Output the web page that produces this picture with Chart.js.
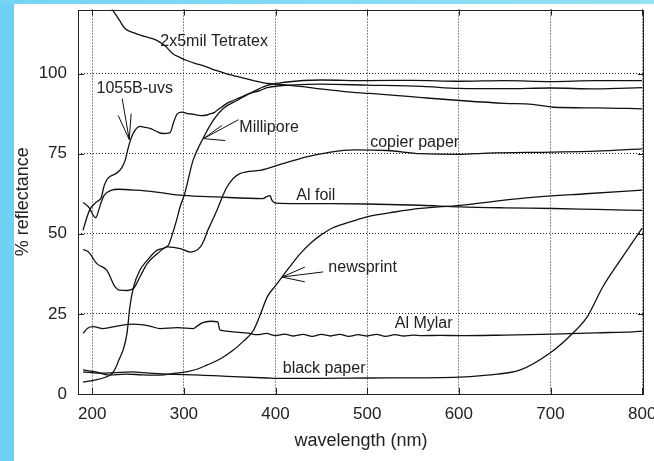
<!DOCTYPE html>
<html>
<head>
<meta charset="utf-8">
<script src="https://cdn.jsdelivr.net/npm/chart.js@4.4.1/dist/chart.umd.min.js"></script>
<style>
  html, body { margin: 0; padding: 0; background: #fff; }
  body { width: 654px; height: 461px; position: relative; overflow: hidden; }
  #left { position: absolute; left: 0; top: 0; width: 14px; height: 461px; background: #6fd2f5; }
  #top { position: absolute; left: 0; top: 0; width: 654px; height: 4px; background: linear-gradient(to right, #74d4f5, #93e1f3); }
  #c { position: absolute; left: 0; top: 0; }
</style>
</head>
<body>
<div id="left"></div>
<div id="top"></div>
<canvas id="c" width="654" height="461"></canvas>
<script>
// tick labels
const xTicks = [200, 300, 400, 500, 600, 700, 800];
const yTicks = [0, 25, 50, 75, 100];

// curves (wavelength nm, % reflectance)
const tetratexWl = [215, 223, 230, 236, 245, 258, 271, 280, 288, 296, 304, 312, 321, 330, 336, 345, 354, 365, 376, 391, 405, 416, 430, 449, 475, 503, 530, 560, 601, 650, 680, 703, 750, 800];
const tetratexR  = [123, 119.6, 116.5, 114, 112.8, 111.5, 110.3, 108.5, 106.2, 105, 104, 103.2, 102.5, 101.5, 100.9, 100.1, 99.4, 98.6, 97.8, 96.9, 96.6, 96.3, 95.9, 95.2, 94.4, 93.8, 93.2, 92.5, 91.6, 90.7, 90.4, 89.5, 89.3, 89.0];

const uvsWl = [190, 193, 197, 204, 210, 213, 217, 226, 232, 236, 239, 241.5, 245, 252, 258, 263, 270, 277, 285, 289, 293, 298, 304, 311, 318, 324, 329, 333, 336, 341, 347, 354, 361, 372, 383, 391, 405, 420, 449, 500, 560, 600, 650, 700, 750, 800];
const uvsR  = [51.1, 54, 57.3, 59.8, 61.4, 65, 67.3, 68.8, 70.5, 73, 76.5, 79, 81.5, 83.5, 83.2, 82.9, 82, 81.3, 81.6, 85, 87.5, 88, 87.5, 87.3, 86.9, 87, 87.5, 87.8, 88.5, 89.5, 90.7, 91.6, 92.5, 93.8, 94.7, 95.6, 96.2, 96.5, 96.7, 96.4, 96, 95.4, 95.3, 95.5, 95.2, 95.6];

const milliporeWl = [190, 204, 215, 220, 223, 226, 229, 234, 238, 241, 245, 252, 260, 271, 283, 287, 292, 296, 301, 310, 321, 332, 343, 358, 372, 391, 410, 450, 500, 550, 600, 650, 700, 750, 800];
const milliporeR  = [3.7, 4.4, 5.3, 6, 6.9, 8.4, 10.6, 14, 19, 27, 33.3, 38.6, 41.7, 44.9, 46.4, 49.5, 54.2, 58.5, 62.6, 72.9, 79.8, 85.4, 89.1, 91.6, 93.8, 96.3, 97.3, 98, 97.8, 97.9, 97.6, 97.8, 97.5, 97.8, 97.8];

const copierWl = [190, 196, 205, 216, 225, 230, 238, 245, 252, 260, 271, 282, 296, 307, 318, 322, 326, 330, 336, 347, 361, 383, 408, 434, 460, 485, 522, 558, 601, 631, 703, 750, 800];
const copierR  = [45.1, 44.3, 40.7, 38.6, 33.4, 32.4, 32.3, 32.9, 36.5, 40.7, 43.8, 45.9, 45.4, 44.3, 45.9, 48, 51, 53.5, 57.3, 64.6, 68.8, 69.8, 71.9, 74, 75.5, 76.2, 76, 75, 74.8, 75.2, 75.5, 75.8, 76.5];

const alFoilWl = [190, 197, 201, 204, 207, 210, 213, 221, 229, 248, 270, 299, 336, 386, 391, 394, 396, 400, 460, 500, 558, 601, 650, 703, 750, 800];
const alFoilR  = [59.8, 58, 55.8, 55, 57.3, 60, 62, 63.6, 63.9, 63.6, 63, 62, 61.5, 61, 61.7, 61.9, 60.5, 59.6, 59.4, 59.3, 58.9, 58.4, 58.1, 57.9, 57.6, 57.3];

const newsprintWl = [190, 204, 218, 237, 255, 273, 291, 304, 315, 325, 340, 354, 365, 376, 383, 391, 400, 407, 415, 427, 440, 449, 460, 485, 503, 530, 558, 601, 666, 738, 800];
const newsprintR  = [7.5, 6.9, 5.9, 6.2, 6.0, 5.9, 6.5, 7.0, 7.8, 9, 11, 13.7, 16.5, 19.9, 24.5, 30.3, 33.8, 36.5, 39.5, 43.8, 47.5, 49.5, 51.5, 54, 55.5, 56.8, 57.9, 58.9, 61, 62.5, 63.6];

const mylarWl = [190, 195, 201, 212, 227, 245, 263, 274, 293, 310, 316, 320, 329, 337, 339, 342, 354, 370, 380, 390, 400, 410, 420, 430, 440, 450, 460, 470, 480, 490, 500, 510, 520, 530, 540, 550, 560, 580, 600, 650, 703, 750, 790, 800];
const mylarR  = [18.9, 20.5, 21, 20.4, 21.2, 21.8, 21.2, 20.4, 20.7, 20.4, 21.5, 22.2, 22.7, 22.5, 20.2, 19.8, 19.4, 19.0, 18.5, 18.9, 18.2, 18.7, 18.1, 18.6, 18.0, 18.6, 18.1, 18.6, 18.0, 18.5, 18.1, 18.6, 18.0, 18.5, 18.1, 18.4, 18.2, 18.3, 18.2, 18.4, 18.7, 19.1, 19.4, 19.6];

const blackWl = [190, 207, 244, 262, 282, 318, 354, 391, 402, 449, 500, 594, 631, 667, 699, 724, 740, 757, 776, 800];
const blackR  = [6.9, 6.5, 6.9, 6.5, 6.2, 5.9, 5.4, 5.0, 4.9, 4.9, 5.0, 5.2, 5.9, 7.5, 12.7, 18.9, 24.1, 33.4, 41.7, 51.8];

// curve labels, placed in data coordinates
const noteText = ['2x5mil Tetratex', '1055B-uvs', 'Millipore', 'copier paper', 'Al foil', 'newsprint', 'Al Mylar', 'black paper'];
const noteWl   = [333, 246.4, 393, 551.8, 444, 495, 561.6, 453];
const noteR    = [110, 95.2, 83, 78.5, 62, 39.5, 22, 8];

// arrows: tail, tip, two barbs (wl, %)
const arrows = [
  [[232.7, 92.2], [240.4, 79.4], [228.4, 86.9], [242.5, 87.5]],
  [[359.6, 85.6], [321.4, 79.7], [341.4, 83.8], [345, 79.1]],
  [[452, 38.1], [407, 36.5], [432, 39.6], [432, 35]]
];

const FONT = '"Liberation Sans", Arial, sans-serif';

function pairs(xs, ys) {
  return xs.map((x, i) => ({ x: x, y: ys[i] }));
}

const series = [
  [tetratexWl, tetratexR], [uvsWl, uvsR], [milliporeWl, milliporeR], [copierWl, copierR],
  [alFoilWl, alFoilR], [newsprintWl, newsprintR], [mylarWl, mylarR], [blackWl, blackR]
];

const datasets = series.map(s => ({
  data: pairs(s[0], s[1]),
  borderColor: '#111',
  borderWidth: 1.3,
  pointRadius: 0,
  fill: false,
  cubicInterpolationMode: 'monotone'
}));

// frame, inner tick marks, labels and arrows
const annotate = {
  id: 'annotate',
  afterDatasetsDraw(chart) {
    const { ctx, chartArea: a, scales: { x, y } } = chart;
    ctx.save();
    ctx.strokeStyle = '#222';
    ctx.lineWidth = 1;
    ctx.beginPath();
    xTicks.forEach(v => {
      const px = Math.round(x.getPixelForValue(v)) + 0.5;
      ctx.moveTo(px, a.bottom); ctx.lineTo(px, a.bottom - 6);
      ctx.moveTo(px, a.top); ctx.lineTo(px, a.top + 6);
    });
    yTicks.forEach(v => {
      const py = Math.round(y.getPixelForValue(v)) + 0.5;
      ctx.moveTo(a.left, py); ctx.lineTo(a.left + 6, py);
      ctx.moveTo(a.right, py); ctx.lineTo(a.right - 6, py);
    });
    ctx.stroke();
    ctx.strokeRect(Math.round(a.left) + 0.5, Math.round(a.top) + 0.5, Math.round(a.width) - 1, Math.round(a.height) - 1);

    ctx.strokeStyle = '#111';
    ctx.beginPath();
    arrows.forEach(ar => {
      const tip = ar[1];
      const tx = x.getPixelForValue(tip[0]), ty = y.getPixelForValue(tip[1]);
      [ar[0], ar[2], ar[3]].forEach(p => {
        ctx.moveTo(x.getPixelForValue(p[0]), y.getPixelForValue(p[1]));
        ctx.lineTo(tx, ty);
      });
    });
    ctx.stroke();

    ctx.fillStyle = '#222';
    ctx.font = '16px ' + FONT;
    ctx.textAlign = 'center';
    ctx.textBaseline = 'middle';
    noteText.forEach((t, i) => {
      ctx.fillText(t, x.getPixelForValue(noteWl[i]), y.getPixelForValue(noteR[i]));
    });
    ctx.restore();
  }
};

new Chart(document.getElementById('c'), {
  type: 'line',
  data: { datasets: datasets },
  options: {
    responsive: false,
    animation: false,
    devicePixelRatio: 1,
    layout: { padding: { top: 9.5, right: 10, bottom: 0, left: 0 } },
    plugins: { legend: { display: false }, tooltip: { enabled: false } },
    scales: {
      x: {
        type: 'linear',
        min: 184.5,
        max: 802,
        afterBuildTicks: s => { s.ticks = xTicks.map(v => ({ value: v })); },
        afterFit: s => { s.height = 67; s.paddingLeft = 0; s.paddingRight = 0; },
        grid: { color: '#222', lineWidth: 1, drawTicks: false, borderDash: [1, 2] },
        border: { display: false, dash: [1, 2] },
        ticks: { padding: 10, color: '#222', font: { family: FONT, size: 17 } },
        title: { display: true, text: 'wavelength (nm)', color: '#222', font: { family: FONT, size: 18 }, padding: { top: 0, bottom: 9 } }
      },
      y: {
        type: 'linear',
        min: 0,
        max: 120,
        afterBuildTicks: s => { s.ticks = yTicks.map(v => ({ value: v })); },
        afterFit: s => { s.width = 78; s.paddingTop = 0; s.paddingBottom = 0; },
        grid: { color: '#222', lineWidth: 1, drawTicks: false, borderDash: [1, 2] },
        border: { display: false, dash: [1, 2] },
        ticks: { padding: 11, color: '#222', font: { family: FONT, size: 17 } },
        title: { display: true, text: '% reflectance', color: '#222', font: { family: FONT, size: 18 }, padding: { top: 12, bottom: 0 } }
      }
    }
  },
  plugins: [annotate]
});
</script>
</body>
</html>
